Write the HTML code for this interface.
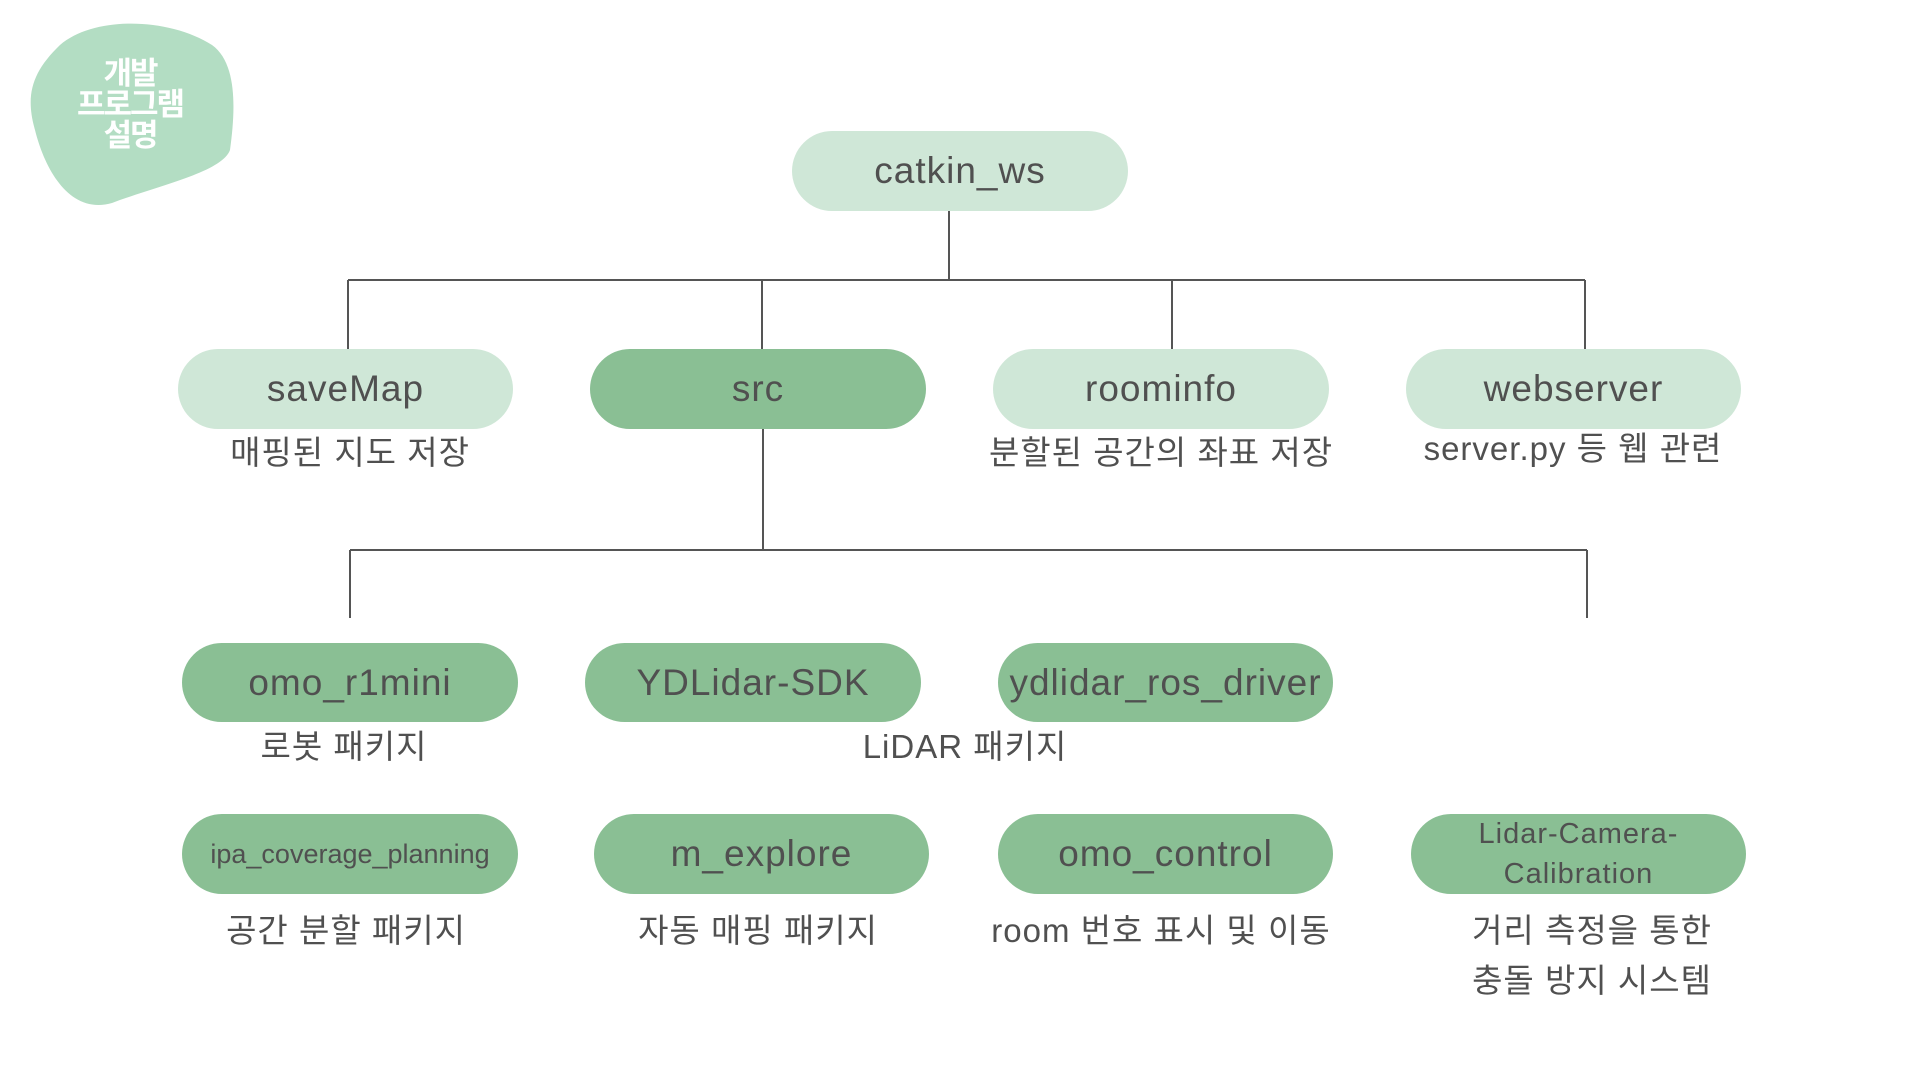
<!DOCTYPE html>
<html><head><meta charset="utf-8"><style>
body{margin:0;width:1920px;height:1080px;background:#fff;position:relative;overflow:hidden;font-family:"Liberation Sans","Noto Sans CJK KR",sans-serif;color:#505050}
.n{position:absolute;border-radius:40px;display:flex;align-items:center;justify-content:center;font-size:37px;letter-spacing:1px;white-space:nowrap}
.l{background:#cfe7d7}.d{background:#8abf94}
.t{position:absolute;font-size:33px;letter-spacing:1px;white-space:nowrap;transform:translate(-50%,-50%);text-align:center;line-height:50px}
.b{position:absolute;left:130px;transform:translateX(-50%);color:#fff;font-weight:bold;font-size:31px;line-height:31px;text-align:center;font-family:"Noto Sans CJK KR",sans-serif;letter-spacing:-2px}
</style></head><body>
<svg width="1920" height="1080" style="position:absolute;left:0;top:0">
<path d="M60 45 C95 15,170 18,212 45 C240 65,234 120,230 150 C222 172,160 185,112 203 C70 215,45 170,35 130 C25 95,32 72,60 45 Z" fill="#b3ddc3"/>
<g stroke="#555" stroke-width="2" fill="none">
<path d="M949 211V280M348 280H1585M348 280V349M762 280V349M1172 280V349M1585 280V349"/>
<path d="M763 429V551M350 550H1587M350 550V618M1587 550V618"/>
</g></svg>
<div class="b" style="top:55px">개발<br>프로그램<br>설명</div>
<div class="n l" style="left:792px;top:131px;width:336px;height:80px">catkin_ws</div>
<div class="n l" style="left:178px;top:349px;width:335px;height:80px">saveMap</div>
<div class="n d" style="left:590px;top:349px;width:336px;height:80px">src</div>
<div class="n l" style="left:993px;top:349px;width:336px;height:80px">roominfo</div>
<div class="n l" style="left:1406px;top:349px;width:335px;height:80px">webserver</div>
<div class="t" style="left:350px;top:453px">매핑된 지도 저장</div>
<div class="t" style="left:1161px;top:453px">분할된 공간의 좌표 저장</div>
<div class="t" style="left:1573px;top:449px">server.py 등 웹 관련</div>
<div class="n d" style="left:182px;top:643px;width:336px;height:79px">omo_r1mini</div>
<div class="n d" style="left:585px;top:643px;width:336px;height:79px">YDLidar-SDK</div>
<div class="n d" style="left:998px;top:643px;width:335px;height:79px">ydlidar_ros_driver</div>
<div class="t" style="left:344px;top:747px">로봇 패키지</div>
<div class="t" style="left:965px;top:747px">LiDAR 패키지</div>
<div class="n d" style="left:182px;top:814px;width:336px;height:80px;font-size:27px;letter-spacing:0">ipa_coverage_planning</div>
<div class="n d" style="left:594px;top:814px;width:335px;height:80px">m_explore</div>
<div class="n d" style="left:998px;top:814px;width:335px;height:80px">omo_control</div>
<div class="n d" style="left:1411px;top:814px;width:335px;height:80px;font-size:29px;white-space:normal;text-align:center;line-height:40px">Lidar-Camera-<br>Calibration</div>
<div class="t" style="left:346px;top:931px">공간 분할 패키지</div>
<div class="t" style="left:758px;top:931px">자동 매핑 패키지</div>
<div class="t" style="left:1161px;top:931px">room 번호 표시 및 이동</div>
<div class="t" style="left:1592px;top:956px">거리 측정을 통한<br>충돌 방지 시스템</div>
</body></html>
